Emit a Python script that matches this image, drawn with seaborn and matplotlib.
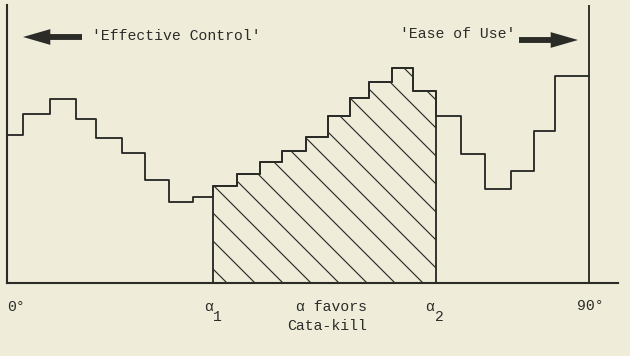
import matplotlib
matplotlib.use("Agg")
import matplotlib.pyplot as plt
import seaborn as sns
import numpy as np

# ---- data ----
edges_deg = [0, 2.5, 6.6, 10.7, 13.7, 17.8, 21.3, 25.0, 28.7, 31.8, 35.5, 39.2,
             42.6, 46.3, 49.6, 53.0, 56.0, 59.6, 62.8, 66.4, 70.2, 73.9, 78.0,
             81.5, 84.8, 90]
step_values = [148, 169, 184, 164, 145, 130, 103, 81, 86, 97, 109, 121, 132,
               146, 167, 185, 201, 215, 192, 167, 129, 94, 112, 152, 207]
alpha1_idx = 9
alpha2_idx = 19
left_label = "'Effective Control'"
right_label = "'Ease of Use'"
mid_label = ["\u03b1 favors", "Cata-kill"]
tick_left = "0\u00b0"
tick_right = "90\u00b0"

# ---- style ----
DPI = 168
W, H = 630, 356
BG = "#efedda"
INK = "#2b2b28"

sns.set_style("white")
plt.rcParams["font.family"] = ["Liberation Mono", "DejaVu Sans Mono", "DejaVu Sans"]
plt.rcParams["hatch.linewidth"] = 0.5

fig = plt.figure(figsize=(W / DPI, H / DPI), dpi=DPI, facecolor=BG)
ax = fig.add_axes([7 / W, (H - 283) / H, 611 / W, 278 / H])
ax.set_facecolor(BG)

x = np.array(edges_deg, dtype=float)
y = np.array(step_values + [step_values[-1]], dtype=float)

sns.lineplot(x=x, y=y, ax=ax, drawstyle="steps-post", color=INK, lw=0.8,
             estimator=None, sort=False)

# hatched region between alpha1 and alpha2
xs = x[alpha1_idx:alpha2_idx + 1]
ys = np.array(step_values[alpha1_idx:alpha2_idx] + [step_values[alpha2_idx - 1]], dtype=float)
ax.fill_between(xs, ys, 0, step="post", facecolor="none", edgecolor=INK,
                hatch="\\\\", lw=0.8)

ax.axvline(edges_deg[-1], color=INK, lw=0.8)

ax.set_xlim(0, 94.5)
ax.set_ylim(0, 278)
for s in ["top", "right"]:
    ax.spines[s].set_visible(False)
for s in ["left", "bottom"]:
    ax.spines[s].set_color(INK)
    ax.spines[s].set_linewidth(0.9)
ax.set_xticks([])
ax.set_yticks([])
ax.set_xlabel("")
ax.set_ylabel("")

def fx(px):
    return px / W

def fy(py):
    return 1 - py / H

fs = 6.3
fig.text(fx(92), fy(36), left_label, fontsize=fs, color=INK, ha="left", va="center")
fig.text(fx(400), fy(34), right_label, fontsize=fs, color=INK, ha="left", va="center")

arrow_style = "simple,head_length=1.3,head_width=0.75,tail_width=0.28"
ax.annotate("", xy=(fx(23), fy(37)), xytext=(fx(82), fy(37)),
            xycoords="figure fraction", textcoords="figure fraction",
            arrowprops=dict(arrowstyle=arrow_style, color=INK, lw=0,
                            mutation_scale=9, shrinkA=0, shrinkB=0),
            annotation_clip=False)
ax.annotate("", xy=(fx(578), fy(40)), xytext=(fx(519), fy(40)),
            xycoords="figure fraction", textcoords="figure fraction",
            arrowprops=dict(arrowstyle=arrow_style, color=INK, lw=0,
                            mutation_scale=9, shrinkA=0, shrinkB=0),
            annotation_clip=False)

fig.text(fx(7), fy(307), tick_left, fontsize=fs, color=INK, ha="left", va="center")
fig.text(fx(577), fy(306), tick_right, fontsize=fs, color=INK, ha="left", va="center")

fig.text(fx(204), fy(307), "\u03b1", fontsize=fs, color=INK, ha="left", va="center")
fig.text(fx(213), fy(317), "1", fontsize=fs, color=INK, ha="left", va="center")
fig.text(fx(425), fy(307), "\u03b1", fontsize=fs, color=INK, ha="left", va="center")
fig.text(fx(435), fy(317), "2", fontsize=fs, color=INK, ha="left", va="center")

fig.text(fx(367), fy(307), mid_label[0], fontsize=fs, color=INK, ha="right", va="center")
fig.text(fx(367), fy(326), mid_label[1], fontsize=fs, color=INK, ha="right", va="center")

fig.savefig("out.png", dpi=DPI, facecolor=BG)
